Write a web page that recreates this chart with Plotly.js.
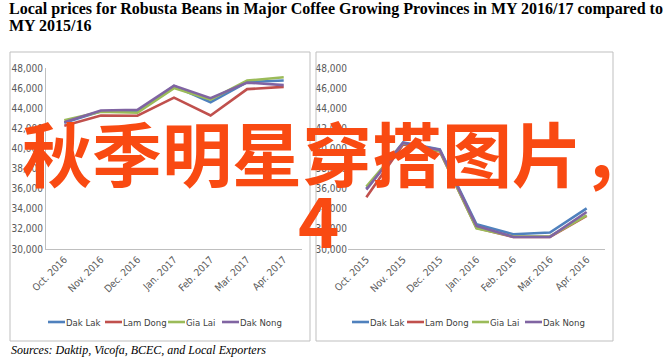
<!DOCTYPE html>
<html>
<head>
<meta charset="utf-8">
<script src="https://cdn.plot.ly/plotly-3.0.1.min.js"></script>
<style>html,body{margin:0;padding:0;background:#fff;}#chart{width:665px;height:359px;}</style>
</head>
<body>
<div id="chart"></div>
<script>
// ---- data ----
var seriesNames = ["Dak Lak", "Lam Dong", "Gia Lai", "Dak Nong"];
var months1617 = ["Oct. 2016", "Nov. 2016", "Dec. 2016", "Jan. 2017", "Feb. 2017", "Mar. 2017", "Apr. 2017"];
var months1516 = ["Oct. 2015", "Nov. 2015", "Dec. 2015", "Jan. 2016", "Feb. 2016", "Mar. 2016", "Apr. 2016"];
var dakLak1617  = [42550, 43700, 43650, 46200, 44600, 46600, 46750];
var lamDong1617 = [42250, 43280, 43250, 45050, 43280, 45900, 46120];
var giaLai1617  = [42800, 43650, 43550, 46000, 44850, 46750, 47080];
var dakNong1617 = [42600, 43780, 43850, 46250, 45000, 46550, 46300];
var dakLak1516  = [36000, 40600, 39900, 32460, 31470, 31640, 34040];
var lamDong1516 = [35150, 40400, 39700, 32100, 31200, 31200, 33300];
var giaLai1516  = [36200, 40500, 39750, 32060, 31250, 31250, 33350];
var dakNong1516 = [35900, 40550, 39850, 32300, 31200, 31200, 33680];
var yTickVals = [30000, 32000, 34000, 36000, 38000, 40000, 42000, 44000, 46000, 48000];
var titleLine1 = "Local prices for Robusta Beans in Major Coffee Growing Provinces in MY 2016/17 compared to";
var titleLine2 = "MY 2015/16";
var sourceText = "Sources: Daktip, Vicofa, BCEC, and Local Exporters";
var watermarkText = "秋季明星穿搭图片，";
var watermarkNum = "4";

// ---- styling / layout ----
var W = 665, H = 359;
var colors = ["#4f81bd", "#c0504d", "#9bbb59", "#8064a2"];
var narrow = "Liberation Sans Narrow, DejaVu Sans Condensed, Roboto Condensed, Arial Narrow, Roboto, sans-serif";
var tickFont = {family: narrow, size: 10, color: "#595959"};
function px(x) { return x / W; }
function py(y) { return 1 - y / H; }

var sets = [
  {vals: [dakLak1617, lamDong1617, giaLai1617, dakNong1617], cats: months1617, xa: "x", ya: "y"},
  {vals: [dakLak1516, lamDong1516, giaLai1516, dakNong1516], cats: months1516, xa: "x2", ya: "y2"}
];
var traces = [];
sets.forEach(function (s) {
  s.vals.forEach(function (v, i) {
    traces.push({
      type: "scatter", mode: "lines", x: s.cats, y: v, name: seriesNames[i],
      xaxis: s.xa, yaxis: s.ya, showlegend: false,
      line: {color: colors[i], width: 2.6}
    });
  });
});

function yAxis(domainTop, domainBottom, showLine, anchor) {
  return {
    domain: [py(domainBottom), py(domainTop)], range: [30000, 48000], anchor: anchor,
    tickmode: "array", tickvals: yTickVals, tickformat: ",d", tickfont: tickFont,
    showgrid: false, zeroline: false, showline: showLine, linecolor: "#bfbfbf", linewidth: 1,
    ticks: "", fixedrange: true
  };
}
function xAxis(x0, x1, anchor, n) {
  return {
    domain: [px(x0), px(x1)], anchor: anchor, type: "category", range: [-0.5, n - 0.5],
    tickangle: -45, tickfont: tickFont, showgrid: false, zeroline: false,
    showline: true, linecolor: "#bfbfbf", linewidth: 1, ticks: "", fixedrange: true
  };
}

var shapes = [
  {type: "rect", xref: "paper", yref: "paper", x0: px(10), x1: px(310), y0: py(341), y1: py(52), line: {color: "#bfbfbf", width: 1}},
  {type: "rect", xref: "paper", yref: "paper", x0: px(316), x1: px(613), y0: py(341), y1: py(52), line: {color: "#bfbfbf", width: 1}}
];
var annotations = [];
var legendX = [[48, 105, 168, 222], [352, 407, 472, 525]];
var legendY = 322;
legendX.forEach(function (row) {
  row.forEach(function (x0, i) {
    shapes.push({type: "line", xref: "paper", yref: "paper", x0: px(x0), x1: px(x0 + 17), y0: py(legendY), y1: py(legendY), line: {color: colors[i], width: 2.6}});
    annotations.push({xref: "paper", yref: "paper", x: px(x0 + 17), y: py(legendY), xanchor: "left", yanchor: "middle",
      text: seriesNames[i], showarrow: false, font: {family: narrow, size: 9.5, color: "#404040"}, borderpad: 0});
  });
});
var serif = "Liberation Serif, Times New Roman, serif";
annotations.push({xref: "paper", yref: "paper", x: px(8), y: py(9), xanchor: "left", yanchor: "middle",
  text: "<b>" + titleLine1 + "</b>", showarrow: false, font: {family: serif, size: 16, color: "#000"}, borderpad: 0});
annotations.push({xref: "paper", yref: "paper", x: px(8), y: py(25), xanchor: "left", yanchor: "middle",
  text: "<b>" + titleLine2 + "</b>", showarrow: false, font: {family: serif, size: 16, color: "#000"}, borderpad: 0});
annotations.push({xref: "paper", yref: "paper", x: px(9), y: py(350), xanchor: "left", yanchor: "middle",
  text: sourceText, showarrow: false, font: {family: serif, size: 12, color: "#000", style: "italic"}});
annotations.push({xref: "paper", yref: "paper", x: px(20), y: py(151), xanchor: "left", yanchor: "middle",
  text: "<b>" + watermarkText + "</b>", showarrow: false, font: {family: "Noto Sans CJK SC, sans-serif", size: 70, color: "#f94a12"}});
annotations.push({xref: "paper", yref: "paper", x: px(318), y: py(217), xanchor: "center", yanchor: "middle",
  text: "<b>" + watermarkNum + "</b>", showarrow: false, font: {family: "Noto Sans CJK SC, sans-serif", size: 70, color: "#f94a12"}});

var layout = {
  width: W, height: H, margin: {l: 0, r: 0, t: 0, b: 0}, paper_bgcolor: "#fff", plot_bgcolor: "rgba(0,0,0,0)",
  showlegend: false,
  xaxis: xAxis(46, 302, "y", months1617.length),
  yaxis: yAxis(68, 249, true, "x"),
  xaxis2: xAxis(348, 605, "y2", months1516.length),
  yaxis2: yAxis(68, 249, false, "x2"),
  shapes: shapes,
  annotations: annotations
};
Plotly.newPlot("chart", traces, layout, {staticPlot: true, displayModeBar: false});
</script>
</body>
</html>
